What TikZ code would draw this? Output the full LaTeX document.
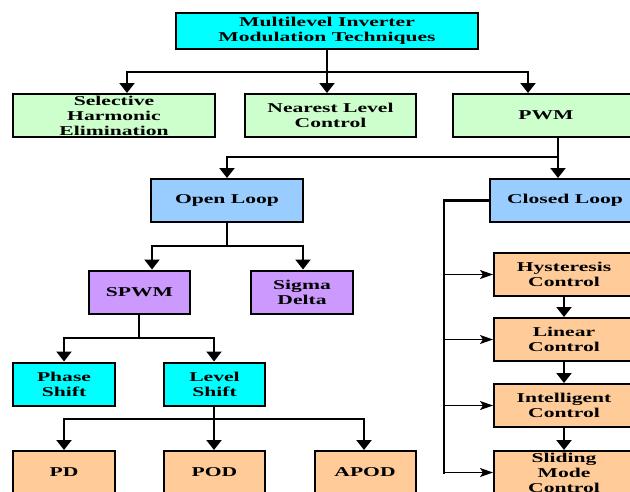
\documentclass[tikz,border=0pt]{standalone}
\usepackage{fontspec}
\setmainfont{Liberation Serif}[FakeStretch=1.6]
\usetikzlibrary{arrows.meta}
\definecolor{cyanbox}{HTML}{00FFFF}
\definecolor{greenbox}{HTML}{CCFFCC}
\definecolor{bluebox}{HTML}{99CCFF}
\definecolor{purplebox}{HTML}{CC99FF}
\definecolor{orangebox}{HTML}{FFCC99}
\tikzset{techbox/.style={draw,line width=2pt,inner sep=0pt,align=center,minimum height=43pt,font=\bfseries\fontsize{13.5}{15}\selectfont}}
\newcommand{\tech}[6]{\node[techbox,fill=#5,minimum width=#4pt] (#1) at (#2,#3) {#6};}
\newcommand{\link}[2]{\draw[line width=2.2pt,line cap=rect] (#1) -- (#2);}
\newcommand{\linkdown}[2]{\draw[line width=2.2pt,-{Triangle[width=15pt,length=10pt]}] (#1) -- (#2);}
\newcommand{\linkright}[2]{\draw[line width=1.3pt,-{Stealth[width=9pt,length=13pt,inset=3pt]}] (#1) -- (#2);}

\begin{document}
\begin{tikzpicture}[x=1pt,y=-1pt]
    \clip (0,0) rectangle (630,491);
    \node[techbox,fill=cyanbox,minimum width=302pt,minimum height=36pt] (MLI) at (327,31) {Multilevel Inverter\\Modulation Techniques};
    \tech{SHE}{114}{115.5}{202}{greenbox}{Selective\\Harmonic\\Elimination}
    \tech{NLC}{330.5}{115.5}{171}{greenbox}{Nearest Level\\Control}
    \tech{PWM}{546}{115.5}{186}{greenbox}{PWM}
    \tech{OL}{227}{200.5}{152}{bluebox}{Open Loop}    \tech{CL}{565}{200.5}{150}{bluebox}{Closed Loop}
    \tech{SPWM}{139.5}{292}{101}{purplebox}{SPWM}    \tech{SD}{302}{292}{102}{purplebox}{Sigma\\Delta}
    \tech{PS}{64}{384}{102}{cyanbox}{Phase\\Shift}    \tech{LS}{214.5}{384}{101}{cyanbox}{Level\\Shift}
    \tech{PD}{64}{472.5}{102}{orangebox}{PD}    \tech{POD}{214.5}{472.5}{101}{orangebox}{POD}
    \tech{APOD}{365}{472.5}{101}{orangebox}{APOD}
    \tech{HC}{564}{274.5}{140}{orangebox}{Hysteresis\\Control}
    \tech{LC}{564}{339.5}{140}{orangebox}{Linear\\Control}
    \tech{IC}{564}{405.5}{140}{orangebox}{Intelligent\\Control}
    \tech{SMC}{564}{472.5}{140}{orangebox}{Sliding\\Mode\\Control}
    % tree of the open side
    \coordinate (j1) at (327,72); \coordinate (b1l) at (127,72); \coordinate (b1r) at (528,72);
    \link{MLI}{j1}\link{b1l}{b1r}
    \linkdown{b1l}{b1l |- SHE.north}\linkdown{j1}{j1 |- NLC.north}\linkdown{b1r}{b1r |- PWM.north}
    \coordinate (j2) at (558,157); \coordinate (b2l) at (227,157);
    \link{j2 |- PWM.south}{j2}\link{b2l}{j2}
    \linkdown{b2l}{b2l |- OL.north}\linkdown{j2}{j2 |- CL.north}
    \coordinate (j3) at (227,246); \coordinate (b3l) at (152,246); \coordinate (b3r) at (303,246);
    \link{OL}{j3}\link{b3l}{b3r}
    \linkdown{b3l}{b3l |- SPWM.north}\linkdown{b3r}{b3r |- SD.north}
    \coordinate (j4) at (139,338); \coordinate (b4l) at (64,338); \coordinate (b4r) at (214,338);
    \link{j4 |- SPWM.south}{j4}\link{b4l}{b4r}
    \linkdown{b4l}{b4l |- PS.north}\linkdown{b4r}{b4r |- LS.north}
    \coordinate (j5) at (214,419); \coordinate (b5l) at (64,419); \coordinate (b5r) at (364,419);
    \link{j5 |- LS.south}{j5}\link{b5l}{b5r}
    \linkdown{b5l}{b5l |- PD.north}\linkdown{j5}{j5 |- POD.north}\linkdown{b5r}{b5r |- APOD.north}
    % closed loop rail
    \coordinate (cl) at (444,200.5);
    \link{CL}{cl}\link{cl}{cl |- SMC}
    \linkright{cl |- HC}{HC}\linkright{cl |- LC}{LC}\linkright{cl |- IC}{IC}\linkright{cl |- SMC}{SMC}
    \linkdown{HC}{LC}\linkdown{LC}{IC}\linkdown{IC}{SMC}
\end{tikzpicture}
\end{document}
